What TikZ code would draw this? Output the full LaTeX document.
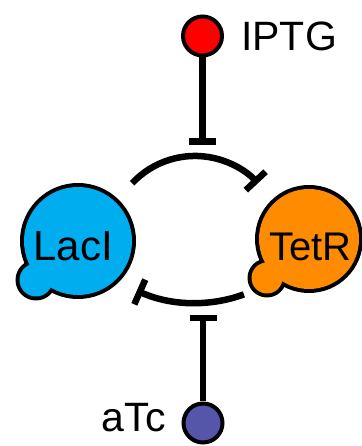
\documentclass[tikz,border=0pt]{standalone}
\usepackage{fontspec}
\setmainfont{Liberation Sans}
\usetikzlibrary{arrows.meta}
\definecolor{laciblue}{RGB}{0,174,239}
\definecolor{tetrorange}{RGB}{255,140,0}
\definecolor{iptgred}{RGB}{255,0,0}
\definecolor{atcblue}{RGB}{85,85,170}
\begin{document}
\begin{tikzpicture}[x=1pt,y=1pt,
	inhib/.style={line width=6.5pt,-{Bar[width=27pt]}},
	mol/.style={circle,draw,line width=4pt,minimum size=39pt,inner sep=0pt},
	lbl/.style={font=\fontsize{41}{41}\selectfont,inner sep=0pt}]
	\useasboundingbox (0,0) rectangle (361,446);
	% repressor blobs
	\fill[black] (78,205) circle (58) (36,166) circle (20.5);
	\fill[laciblue] (78,205) circle (54) (36,166) circle (16.5);
	\fill[black] (309,207) circle (54) (267,168) circle (19.5);
	\fill[tetrorange] (309,207) circle (50) (267,168) circle (15.5);
	\node[font=\fontsize{42}{42}\selectfont] (laci) at (73,200) {LacI};
	\node[font=\fontsize{40}{40}\selectfont] (tetr) at (310.5,199) {TetR};
	% inducers
	\node[mol,fill=iptgred] (iptg) at (202.5,410) {};
	\node[lbl,anchor=base west] (iptglabel) at (241,395) {IPTG};
	\node[mol,fill=atcblue] (atc) at (203,23) {};
	\node[lbl,anchor=base east] (atclabel) at (166,14) {aTc};
	\coordinate (topbar) at (202.5,301);
	\coordinate (botbar) at (203,131);
	\draw[inhib] (iptg) -- (topbar);
	\draw[inhib] (atc) -- (botbar);
	% mutual repression
	\coordinate (lacout) at (132.1,262.7);
	\coordinate (tetout) at (243.9,151.6);
	\draw[inhib] (lacout) arc[start angle=137,end angle=43,radius=86];
	\draw[inhib] (tetout) arc[start angle=-70,end angle=-114,radius=143];
\end{tikzpicture}
\end{document}
